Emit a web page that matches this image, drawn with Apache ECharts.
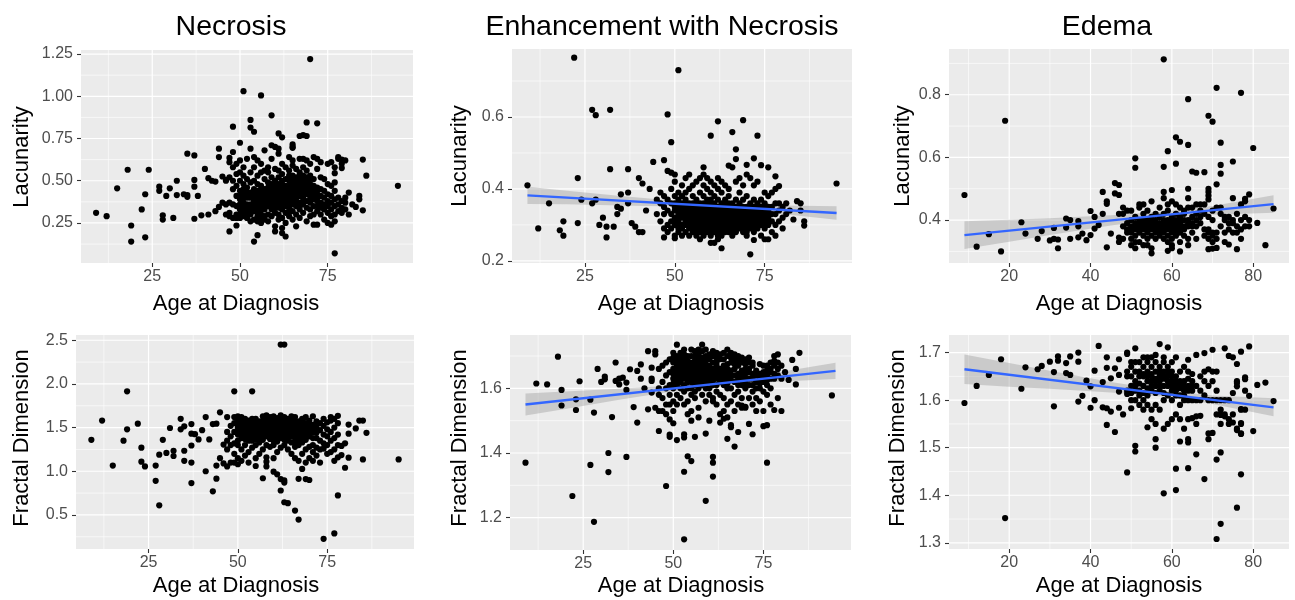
<!DOCTYPE html>
<html lang="en">
<head>
<meta charset="UTF-8">
<title>Lacunarity and fractal dimension by age at diagnosis</title>
<script src="https://cdn.jsdelivr.net/npm/echarts@6.0.0/dist/echarts.min.js"></script>
<style>
  html, body { margin: 0; padding: 0; background: #fff; }
  #chart { width: 1295px; height: 600px; }
</style>
</head>
<body>
<div id="chart"></div>
<script>
// ---- data: [age, value] ----
var necrosisLacunarity = [
  [9,0.31],[12,0.29],[15,0.455],[18,0.565],[19,0.235],[19,0.14],[22,0.33],[23,0.165],[23,0.42],[24,0.565],
  [27,0.465],[27,0.44],[28,0.295],[28,0.27],[29,0.41],[30,0.455],[31,0.28],[32,0.5],[32,0.415],[34,0.42],
  [35,0.415],[35,0.405],[35,0.66],[37,0.65],[37,0.505],[37,0.465],[37,0.275],[38,0.41],[39,0.295],[40,0.57],
  [41,0.515],[42,0.5],[43,0.495],[41,0.3],[43,0.32],[44,0.345],[44,0.69],[44,0.64],[45,0.525],[45,0.37],
  [46,0.505],[47,0.635],[47,0.2],[48,0.82],[49,0.235],[50,0.725],[51,1.03],[53,0.86],[53,0.815],[54,0.79],
  [54,0.14],[55,0.178],[56,1.005],[59,0.887],[61,0.78],[62,0.757],[65,0.715],[65,0.695],[67,0.765],[68,0.77],
  [69,0.765],[69,0.845],[70,1.22],[72,0.84],[77,0.07],[85,0.625],[86,0.53],[85,0.325],[84,0.41],[84,0.39],
  [95,0.47],[81,0.3],[81,0.43],[78,0.64],[79,0.625],[79,0.575],[77,0.545],[83,0.345],
  [46,0.36],[46,0.5],[46,0.3],
  [47,0.29],[47,0.31],[47,0.52],[47,0.37],[47,0.61],
  [48,0.28],[48,0.36],[48,0.45],[48,0.58],[48,0.67],[48,0.5],
  [49,0.3],[49,0.35],[49,0.41],[49,0.47],[49,0.54],[49,0.6],[49,0.28],
  [50,0.28],[50,0.3],[50,0.33],[50,0.39],[50,0.44],[50,0.5],[50,0.55],[50,0.62],[50,0.36],
  [51,0.29],[51,0.31],[51,0.34],[51,0.42],[51,0.48],[51,0.53],[51,0.58],[51,0.37],[51,0.45],
  [52,0.28],[52,0.33],[52,0.4],[52,0.46],[52,0.51],[52,0.63],[52,0.36],
  [53,0.3],[53,0.36],[53,0.43],[53,0.49],[53,0.55],[53,0.69],[53,0.26],
  [54,0.27],[54,0.32],[54,0.38],[54,0.45],[54,0.5],[54,0.58],[54,0.64],[54,0.41],
  [55,0.26],[55,0.29],[55,0.34],[55,0.4],[55,0.44],[55,0.48],[55,0.53],[55,0.62],[55,0.37],
  [56,0.25],[56,0.28],[56,0.3],[56,0.36],[56,0.42],[56,0.47],[56,0.55],[56,0.6],[56,0.39],
  [57,0.27],[57,0.29],[57,0.33],[57,0.38],[57,0.41],[57,0.45],[57,0.51],[57,0.56],[57,0.68],
  [58,0.26],[58,0.3],[58,0.35],[58,0.39],[58,0.42],[58,0.46],[58,0.49],[58,0.55],[58,0.58],[58,0.44],
  [59,0.29],[59,0.33],[59,0.37],[59,0.4],[59,0.43],[59,0.45],[59,0.48],[59,0.52],[59,0.63],[59,0.71],[59,0.41],
  [60,0.2],[60,0.23],[60,0.31],[60,0.36],[60,0.39],[60,0.42],[60,0.44],[60,0.47],[60,0.5],[60,0.57],[60,0.7],[60,0.4],
  [61,0.27],[61,0.3],[61,0.34],[61,0.38],[61,0.41],[61,0.43],[61,0.46],[61,0.52],[61,0.56],[61,0.66],[61,0.69],
  [62,0.19],[62,0.22],[62,0.28],[62,0.33],[62,0.36],[62,0.4],[62,0.44],[62,0.48],[62,0.54],[62,0.6],[62,0.38],
  [63,0.17],[63,0.25],[63,0.31],[63,0.35],[63,0.39],[63,0.43],[63,0.47],[63,0.51],[63,0.58],
  [64,0.29],[64,0.34],[64,0.37],[64,0.42],[64,0.45],[64,0.5],[64,0.56],[64,0.64],[64,0.4],
  [65,0.27],[65,0.32],[65,0.36],[65,0.41],[65,0.46],[65,0.49],[65,0.53],[65,0.59],[65,0.62],[65,0.7],
  [66,0.23],[66,0.3],[66,0.35],[66,0.38],[66,0.44],[66,0.48],[66,0.52],[66,0.57],[66,0.42],
  [67,0.28],[67,0.33],[67,0.37],[67,0.41],[67,0.45],[67,0.5],[67,0.55],[67,0.48],[67,0.63],
  [68,0.31],[68,0.36],[68,0.4],[68,0.43],[68,0.47],[68,0.49],[68,0.53],[68,0.58],[68,0.63],[68,0.45],
  [69,0.26],[69,0.34],[69,0.38],[69,0.42],[69,0.46],[69,0.5],[69,0.56],[69,0.62],
  [70,0.29],[70,0.33],[70,0.37],[70,0.41],[70,0.44],[70,0.48],[70,0.53],[70,0.6],
  [71,0.24],[71,0.3],[71,0.35],[71,0.39],[71,0.43],[71,0.47],[71,0.64],[71,0.51],
  [72,0.24],[72,0.32],[72,0.38],[72,0.42],[72,0.46],[72,0.57],[72,0.63],
  [73,0.3],[73,0.34],[73,0.37],[73,0.41],[73,0.45],[73,0.52],[73,0.61],
  [74,0.27],[74,0.33],[74,0.36],[74,0.4],[74,0.44],[74,0.51],
  [75,0.25],[75,0.31],[75,0.35],[75,0.38],[75,0.42],[75,0.48],[75,0.6],
  [76,0.24],[76,0.29],[76,0.33],[76,0.37],[76,0.41],[76,0.47],[76,0.61],
  [77,0.26],[77,0.3],[77,0.35],[77,0.39],[77,0.44],[77,0.49],[77,0.58],
  [78,0.32],[78,0.36],[78,0.4],[78,0.63],[79,0.31],[79,0.34],[79,0.38],[79,0.6],
  [80,0.33],[80,0.37],[80,0.4],[80,0.62],[82,0.36],
  [50,0.41],[51,0.4],[52,0.43],[52,0.3],[53,0.33],[53,0.4],[54,0.35],[54,0.43],[55,0.42],[55,0.31],
  [56,0.33],[56,0.45],[57,0.43],[57,0.36],[58,0.37],[58,0.41],[59,0.35],[59,0.39],[60,0.34],[60,0.38],
  [60,0.45],[61,0.36],[61,0.4],[61,0.48],[62,0.42],[62,0.46],[62,0.5],[63,0.37],[63,0.41],[63,0.45],
  [64,0.32],[64,0.47],[64,0.53],[65,0.39],[65,0.44],[65,0.51],[66,0.4],[66,0.46],[66,0.5],[67,0.35],
  [67,0.43],[67,0.53],[68,0.38],[68,0.51],[69,0.44],[69,0.48],[69,0.52],[70,0.39],[70,0.46],[70,0.51],
  [71,0.41],[71,0.45],[72,0.4],[72,0.44],[72,0.35]
];

var enhancementLacunarity = [
  [9,0.41],[12,0.29],[15,0.36],[18,0.285],[19,0.31],[19,0.27],[22,0.765],[23,0.43],[23,0.305],[24,0.37],
  [27,0.62],[28,0.605],[27,0.36],[28,0.37],[29,0.3],[30,0.32],[31,0.265],[31,0.295],[32,0.62],[32,0.455],
  [33,0.295],[34,0.33],[34,0.35],[35,0.385],[35,0.345],[37,0.455],[37,0.39],[37,0.36],[38,0.305],[39,0.295],
  [40,0.43],[41,0.415],[40,0.28],[41,0.28],[42,0.34],[43,0.4],[44,0.475],[47,0.48],[48,0.607],[49,0.53],
  [51,0.73],[60,0.548],[62,0.588],[66,0.558],[67,0.51],[69,0.591],[73,0.548],[71,0.218],[95,0.415],[74,0.466],
  [76,0.46],[78,0.435],[79,0.408],[78,0.4],[84,0.366],[86,0.298],[83,0.315],[80,0.29],[63,0.235],[72,0.258],
  [47,0.265],[50,0.263],[48,0.45],[49,0.445],[50,0.44],[70,0.467],[72,0.485],[67,0.483],[65,0.465],[58,0.46],
  [45,0.33],[45,0.37],[46,0.31],[46,0.36],[46,0.39],
  [47,0.29],[47,0.33],[47,0.35],[47,0.38],[48,0.28],[48,0.3],[48,0.34],[48,0.37],
  [49,0.29],[49,0.31],[49,0.33],[49,0.36],[49,0.4],
  [50,0.27],[50,0.3],[50,0.32],[50,0.34],[50,0.36],[50,0.38],[50,0.42],
  [51,0.28],[51,0.29],[51,0.31],[51,0.33],[51,0.35],[51,0.37],[51,0.39],
  [52,0.27],[52,0.29],[52,0.32],[52,0.34],[52,0.36],[52,0.38],[52,0.41],
  [53,0.28],[53,0.3],[53,0.31],[53,0.33],[53,0.35],[53,0.37],[53,0.39],[53,0.43],
  [54,0.27],[54,0.29],[54,0.31],[54,0.32],[54,0.34],[54,0.36],[54,0.4],[54,0.44],
  [55,0.28],[55,0.3],[55,0.32],[55,0.33],[55,0.35],[55,0.38],[55,0.41],
  [56,0.27],[56,0.29],[56,0.31],[56,0.34],[56,0.36],[56,0.37],[56,0.42],
  [57,0.26],[57,0.28],[57,0.3],[57,0.32],[57,0.33],[57,0.35],[57,0.39],[57,0.43],
  [58,0.27],[58,0.29],[58,0.31],[58,0.33],[58,0.34],[58,0.36],[58,0.38],[58,0.41],[58,0.44],
  [59,0.28],[59,0.3],[59,0.32],[59,0.34],[59,0.35],[59,0.37],[59,0.4],[59,0.43],
  [60,0.25],[60,0.27],[60,0.29],[60,0.31],[60,0.33],[60,0.35],[60,0.37],[60,0.39],[60,0.42],
  [61,0.25],[61,0.28],[61,0.3],[61,0.32],[61,0.34],[61,0.36],[61,0.38],[61,0.41],
  [62,0.26],[62,0.28],[62,0.31],[62,0.33],[62,0.35],[62,0.37],[62,0.4],[62,0.43],
  [63,0.27],[63,0.29],[63,0.32],[63,0.34],[63,0.36],[63,0.39],[63,0.42],
  [64,0.28],[64,0.3],[64,0.33],[64,0.35],[64,0.37],[64,0.41],
  [65,0.28],[65,0.31],[65,0.33],[65,0.36],[65,0.38],[65,0.4],
  [66,0.27],[66,0.29],[66,0.32],[66,0.34],[66,0.36],[66,0.46],
  [67,0.28],[67,0.31],[67,0.33],[67,0.35],[67,0.37],[67,0.42],
  [68,0.29],[68,0.31],[68,0.33],[68,0.34],[68,0.36],[68,0.39],[68,0.43],
  [69,0.28],[69,0.3],[69,0.32],[69,0.34],[69,0.35],[69,0.37],[69,0.41],
  [70,0.27],[70,0.3],[70,0.31],[70,0.33],[70,0.35],[70,0.38],[70,0.44],
  [71,0.29],[71,0.31],[71,0.33],[71,0.34],[71,0.36],[71,0.43],
  [72,0.28],[72,0.3],[72,0.32],[72,0.34],[72,0.35],[72,0.37],[72,0.41],
  [73,0.29],[73,0.31],[73,0.33],[73,0.35],[73,0.36],[73,0.42],
  [74,0.27],[74,0.3],[74,0.32],[74,0.34],[74,0.37],
  [75,0.26],[75,0.29],[75,0.31],[75,0.33],[75,0.35],[75,0.36],[75,0.39],
  [76,0.26],[76,0.3],[76,0.32],[76,0.34],[76,0.38],
  [77,0.28],[77,0.31],[77,0.33],[77,0.35],[77,0.39],
  [78,0.27],[78,0.3],[78,0.33],[78,0.36],[79,0.31],[79,0.34],[79,0.36],
  [80,0.32],[80,0.35],[81,0.33],[81,0.36],[82,0.34],[85,0.34],[85,0.36],[86,0.31],
  [50,0.31],[50,0.35],[51,0.3],[51,0.32],[51,0.34],[51,0.36],[52,0.3],[52,0.33],[52,0.35],[53,0.32],
  [53,0.34],[53,0.36],[54,0.3],[54,0.33],[54,0.35],[55,0.29],[55,0.31],[55,0.34],[55,0.36],[56,0.28],
  [56,0.3],[56,0.32],[56,0.33],[56,0.35],[57,0.29],[57,0.31],[57,0.34],[57,0.36],[58,0.28],[58,0.3],
  [58,0.32],[58,0.35],[59,0.29],[59,0.31],[59,0.33],[59,0.36],[60,0.28],[60,0.3],[60,0.32],[60,0.34],
  [60,0.36],[61,0.29],[61,0.31],[61,0.33],[61,0.35],[62,0.27],[62,0.29],[62,0.3],[62,0.32],[62,0.34],
  [63,0.28],[63,0.3],[63,0.31],[63,0.33],[63,0.35],[64,0.29],[64,0.31],[64,0.32],[64,0.34],[64,0.36],
  [65,0.29],[65,0.3],[65,0.32],[65,0.34],[65,0.35],[66,0.28],[66,0.3],[66,0.31],[66,0.33],[67,0.29],
  [67,0.3],[67,0.32],[67,0.34],[68,0.3],[68,0.32],[68,0.35],[69,0.29],[69,0.31],[69,0.33],[70,0.28],
  [70,0.29],[70,0.32],[70,0.34],[71,0.3],[71,0.32],[71,0.35],[72,0.29],[72,0.31],[72,0.33],[73,0.3],
  [73,0.32],[73,0.34],[74,0.31],[74,0.33],[74,0.35],[75,0.3],[75,0.32],[75,0.34],[76,0.31],[76,0.33],[76,0.35]
];

var edemaLacunarity = [
  [9,0.48],[12,0.315],[15,0.355],[18,0.3],[19,0.717],[23,0.393],[24,0.357],[27,0.34],[28,0.365],[30,0.335],
  [31,0.34],[31,0.375],[32,0.31],[32,0.338],[34,0.405],[35,0.4],[34,0.376],[35,0.34],[37,0.397],[37,0.38],
  [37,0.345],[38,0.357],[39,0.336],[40,0.429],[40,0.352],[41,0.373],[41,0.41],[42,0.384],[43,0.42],[43,0.49],
  [44,0.452],[44,0.46],[44,0.313],[45,0.357],[46,0.518],[47,0.512],[46,0.485],[47,0.48],[47,0.42],[47,0.344],
  [47,0.33],[51,0.597],[51,0.567],[58,0.913],[58,0.57],[59,0.62],[60,0.496],[61,0.664],[62,0.65],[61,0.58],
  [64,0.786],[64,0.64],[65,0.555],[66,0.551],[68,0.553],[69,0.733],[70,0.714],[71,0.822],[72,0.647],[72,0.576],
  [72,0.548],[71,0.514],[75,0.587],[77,0.806],[80,0.63],[85,0.437],[81,0.391],[83,0.32],[76,0.307],[79,0.482],
  [78,0.468],[69,0.5],[69,0.49],[69,0.478],[69,0.466],[64,0.5],[55,0.294],[59,0.302],[60,0.31],[62,0.3],
  [69,0.307],[70,0.309],[71,0.311],[74,0.322],
  [48,0.34],[48,0.38],[48,0.42],[48,0.44],[49,0.36],[49,0.37],[49,0.39],[49,0.43],
  [50,0.32],[50,0.34],[50,0.36],[50,0.38],[50,0.4],[50,0.43],
  [51,0.31],[51,0.33],[51,0.35],[51,0.37],[51,0.39],[51,0.41],
  [52,0.33],[52,0.36],[52,0.38],[52,0.4],[52,0.44],[52,0.45],
  [53,0.32],[53,0.35],[53,0.37],[53,0.39],[53,0.42],[53,0.45],
  [54,0.32],[54,0.34],[54,0.36],[54,0.38],[54,0.4],[54,0.43],
  [55,0.31],[55,0.35],[55,0.37],[55,0.39],[55,0.41],[55,0.46],
  [56,0.34],[56,0.36],[56,0.38],[56,0.4],[56,0.42],
  [57,0.35],[57,0.37],[57,0.38],[57,0.39],[57,0.41],[57,0.44],
  [58,0.34],[58,0.36],[58,0.37],[58,0.39],[58,0.42],[58,0.47],[58,0.49],
  [59,0.33],[59,0.35],[59,0.38],[59,0.4],[59,0.43],[59,0.45],
  [60,0.32],[60,0.34],[60,0.36],[60,0.38],[60,0.39],[60,0.41],[60,0.46],
  [61,0.35],[61,0.37],[61,0.38],[61,0.4],[61,0.42],[61,0.45],
  [62,0.33],[62,0.36],[62,0.38],[62,0.39],[62,0.41],[62,0.44],
  [63,0.35],[63,0.37],[63,0.4],[63,0.42],[63,0.43],
  [64,0.32],[64,0.34],[64,0.38],[64,0.4],[64,0.44],[64,0.47],
  [65,0.36],[65,0.39],[65,0.41],[65,0.44],[66,0.34],[66,0.4],[66,0.42],[66,0.45],
  [67,0.39],[67,0.43],[67,0.45],[68,0.35],[68,0.37],[68,0.42],[68,0.45],
  [69,0.34],[69,0.36],[69,0.37],[69,0.41],[70,0.33],[70,0.35],[70,0.36],[70,0.4],[70,0.43],
  [71,0.34],[71,0.36],[71,0.44],[72,0.38],[72,0.42],[72,0.44],
  [73,0.33],[73,0.36],[73,0.4],[73,0.41],[74,0.37],[74,0.39],[74,0.41],
  [75,0.36],[75,0.39],[75,0.4],[75,0.47],[76,0.36],[76,0.38],[76,0.42],
  [77,0.34],[77,0.37],[77,0.4],[77,0.45],[78,0.38],[78,0.41],[78,0.46],[79,0.38],[79,0.4],
  [50,0.37],[51,0.38],[52,0.37],[52,0.39],[53,0.38],[53,0.4],[54,0.37],[54,0.39],[55,0.38],[55,0.4],
  [56,0.37],[56,0.39],[57,0.36],[58,0.38],[58,0.4],[59,0.37],[59,0.39],[60,0.37],[60,0.4],[61,0.36],
  [61,0.39],[62,0.37],[62,0.4],[63,0.38],[64,0.39],[65,0.38],[66,0.38],[67,0.41]
];

var necrosisFractal = [
  [9,1.36],[12,1.58],[15,1.065],[18,1.35],[19,1.915],[19,1.48],[22,1.545],[23,1.27],[23,1.11],[24,1.055],
  [27,1.065],[27,0.89],[28,1.19],[28,0.61],[29,1.36],[30,1.21],[31,1.495],[32,1.235],[32,1.175],[34,1.6],
  [34,1.48],[35,1.515],[35,1.235],[35,1.12],[37,1.43],[37,1.54],[37,1.295],[37,1.1],[37,0.865],[38,1.425],
  [39,1.365],[40,1.47],[41,1.62],[41,1.0],[42,1.365],[43,1.54],[43,0.77],[44,1.545],[44,1.065],[44,0.915],
  [45,1.675],[45,1.15],[46,1.305],[46,1.09],[47,1.055],[49,1.915],[54,1.915],[62,2.45],[63,2.45],[57,0.92],
  [58,1.055],[58,1.11],[58,1.16],[60,0.995],[61,0.965],[62,0.91],[63,0.895],[63,0.87],[62,0.78],[63,0.645],
  [64,0.635],[66,0.55],[67,0.447],[74,0.227],[77,0.288],[78,0.723],[67,0.913],[69,0.91],[70,0.9],[68,1.027],
  [85,1.135],[81,1.155],[80,1.04],[95,1.135],[86,1.44],[84,1.58],[85,1.58],[83,1.49],[81,1.535],[81,1.43],
  [78,1.635],[79,1.29],[80,1.32],[79,1.185],[78,1.16],
  [47,1.35],[47,1.45],[47,1.62],[47,1.25],[48,1.4],[48,1.52],[48,1.3],[48,1.1],
  [49,1.2],[49,1.32],[49,1.45],[49,1.55],[49,1.62],[49,1.1],
  [50,1.08],[50,1.15],[50,1.3],[50,1.42],[50,1.5],[50,1.56],[50,1.6],[50,1.63],
  [51,1.12],[51,1.25],[51,1.38],[51,1.47],[51,1.53],[51,1.58],[51,1.62],
  [52,1.18],[52,1.3],[52,1.43],[52,1.5],[52,1.55],[52,1.6],
  [53,1.1],[53,1.22],[53,1.35],[53,1.45],[53,1.52],[53,1.58],
  [54,1.27],[54,1.4],[54,1.48],[54,1.55],[54,1.6],
  [55,1.06],[55,1.15],[55,1.3],[55,1.37],[55,1.45],[55,1.53],[55,1.6],
  [56,1.2],[56,1.33],[56,1.42],[56,1.5],[56,1.57],
  [57,1.25],[57,1.36],[57,1.45],[57,1.52],[57,1.58],[57,1.63],
  [58,1.3],[58,1.4],[58,1.48],[58,1.54],[58,1.6],[58,1.64],
  [59,1.28],[59,1.37],[59,1.45],[59,1.5],[59,1.55],[59,1.62],
  [60,1.15],[60,1.3],[60,1.4],[60,1.47],[60,1.52],[60,1.57],[60,1.63],
  [61,1.22],[61,1.34],[61,1.42],[61,1.49],[61,1.55],[61,1.61],
  [62,1.27],[62,1.38],[62,1.45],[62,1.52],[62,1.58],[62,1.64],
  [63,1.3],[63,1.36],[63,1.44],[63,1.5],[63,1.57],[63,1.62],
  [64,1.25],[64,1.35],[64,1.42],[64,1.48],[64,1.55],[64,1.6],
  [65,1.2],[65,1.33],[65,1.45],[65,1.52],[65,1.6],[65,1.63],
  [66,1.15],[66,1.28],[66,1.38],[66,1.47],[66,1.56],[66,1.62],
  [67,1.12],[67,1.3],[67,1.4],[67,1.5],[67,1.57],
  [68,1.2],[68,1.33],[68,1.45],[68,1.53],[68,1.6],
  [69,1.1],[69,1.25],[69,1.36],[69,1.48],[69,1.55],[69,1.62],
  [70,1.15],[70,1.28],[70,1.4],[70,1.5],[70,1.58],
  [71,1.12],[71,1.22],[71,1.3],[71,1.45],[71,1.53],[71,1.63],
  [72,1.18],[72,1.27],[72,1.38],[72,1.5],[72,1.57],
  [73,1.1],[73,1.25],[73,1.35],[73,1.47],[73,1.55],
  [74,1.26],[74,1.32],[74,1.42],[74,1.52],[74,1.6],
  [75,1.2],[75,1.3],[75,1.4],[75,1.48],[75,1.56],
  [76,1.22],[76,1.35],[76,1.45],[76,1.58],[76,1.62],
  [77,1.12],[77,1.25],[77,1.38],[77,1.5],[77,1.6],[78,1.3],[78,1.42],[78,1.55],
  [50,1.35],[50,1.46],[51,1.42],[51,1.55],[52,1.37],[52,1.47],[52,1.58],[53,1.41],[53,1.49],[53,1.55],
  [54,1.35],[54,1.44],[54,1.52],[55,1.41],[55,1.49],[55,1.56],[56,1.38],[56,1.46],[56,1.54],[57,1.4],
  [57,1.49],[57,1.55],[58,1.44],[58,1.51],[58,1.57],[59,1.41],[59,1.48],[59,1.58],[60,1.35],[60,1.44],
  [60,1.55],[61,1.38],[61,1.46],[61,1.52],[62,1.42],[62,1.49],[62,1.55],[63,1.4],[63,1.47],[63,1.54],
  [64,1.38],[64,1.45],[64,1.52],[65,1.4],[65,1.49],[65,1.56],[66,1.33],[66,1.43],[66,1.52],[67,1.36],
  [67,1.45],[67,1.54],[68,1.39],[68,1.49],[68,1.57],[69,1.42],[69,1.52],[70,1.45],[70,1.54],[71,1.38],
  [71,1.49],[72,1.44],[72,1.54]
];

var enhancementFractal = [
  [9,1.37],[12,1.615],[15,1.612],[18,1.698],[19,1.595],[19,1.547],[22,1.267],[23,1.566],[23,1.533],[24,1.622],
  [27,1.565],[27,1.363],[28,1.525],[28,1.187],[29,1.66],[30,1.62],[31,1.628],[31,1.636],[32,1.4],[32,1.341],
  [33,1.511],[34,1.68],[34,1.623],[35,1.63],[35,1.612],[36,1.633],[37,1.388],[37,1.595],[37,1.618],[38,1.659],
  [39,1.542],[40,1.494],[40,1.654],[41,1.674],[41,1.63],[42,1.6],[43,1.715],[43,1.535],[44,1.664],[44,1.63],
  [44,1.623],[44,1.587],[45,1.715],[45,1.705],[45,1.54],[46,1.468],[48,1.298],[49,1.457],[49,1.45],[49,1.504],
  [50,1.492],[51,1.44],[53,1.342],[53,1.133],[54,1.39],[55,1.375],[53,1.458],[53,1.448],[56,1.45],[59,1.252],
  [59,1.46],[61,1.388],[61,1.37],[61,1.327],[65,1.444],[67,1.42],[68,1.465],[72,1.458],[76,1.37],[75,1.483],
  [76,1.486],[78,1.533],[79,1.57],[84,1.612],[83,1.688],[85,1.71],[82,1.626],[84,1.66],[94,1.578],[63,1.494],
  [64,1.506],[66,1.486],[69,1.547],[70,1.543],[71,1.49],
  [46,1.58],[46,1.66],[46,1.6],[46,1.53],[47,1.57],[47,1.62],[47,1.67],[47,1.53],
  [48,1.55],[48,1.6],[48,1.64],[48,1.68],[48,1.52],[49,1.58],[49,1.61],[49,1.65],[49,1.69],[49,1.55],
  [50,1.56],[50,1.6],[50,1.63],[50,1.66],[50,1.68],[50,1.71],[50,1.53],
  [51,1.58],[51,1.61],[51,1.64],[51,1.67],[51,1.7],[51,1.735],[51,1.55],
  [52,1.57],[52,1.62],[52,1.65],[52,1.68],[52,1.71],[52,1.6],
  [53,1.55],[53,1.59],[53,1.63],[53,1.66],[53,1.69],[53,1.72],
  [54,1.56],[54,1.6],[54,1.64],[54,1.67],[54,1.7],[54,1.62],[54,1.52],
  [55,1.53],[55,1.58],[55,1.62],[55,1.65],[55,1.68],[55,1.72],[55,1.5],
  [56,1.57],[56,1.61],[56,1.64],[56,1.67],[56,1.7],[56,1.59],
  [57,1.54],[57,1.6],[57,1.63],[57,1.66],[57,1.69],[57,1.72],[57,1.51],
  [58,1.58],[58,1.62],[58,1.65],[58,1.68],[58,1.735],[58,1.61],
  [59,1.56],[59,1.6],[59,1.63],[59,1.66],[59,1.7],[59,1.72],
  [60,1.5],[60,1.58],[60,1.62],[60,1.65],[60,1.67],[60,1.69],[60,1.6],
  [61,1.56],[61,1.61],[61,1.64],[61,1.66],[61,1.7],[61,1.57],
  [62,1.55],[62,1.59],[62,1.63],[62,1.66],[62,1.68],[62,1.71],
  [63,1.52],[63,1.58],[63,1.62],[63,1.65],[63,1.69],[63,1.64],
  [64,1.57],[64,1.61],[64,1.64],[64,1.67],[64,1.71],[64,1.53],
  [65,1.55],[65,1.6],[65,1.63],[65,1.66],[65,1.72],[65,1.51],
  [66,1.56],[66,1.6],[66,1.64],[66,1.68],[66,1.71],[66,1.48],
  [67,1.53],[67,1.58],[67,1.62],[67,1.66],[67,1.69],
  [68,1.55],[68,1.59],[68,1.63],[68,1.67],[68,1.7],
  [69,1.57],[69,1.61],[69,1.64],[69,1.68],[69,1.54],
  [70,1.54],[70,1.6],[70,1.63],[70,1.66],[70,1.69],
  [71,1.57],[71,1.61],[71,1.65],[71,1.68],[72,1.55],[72,1.59],[72,1.63],[72,1.67],
  [73,1.53],[73,1.57],[73,1.6],[73,1.64],[74,1.56],[74,1.6],[74,1.63],
  [75,1.59],[75,1.62],[75,1.65],[75,1.53],[76,1.58],[76,1.61],[76,1.64],[76,1.67],
  [77,1.55],[77,1.6],[77,1.65],[77,1.68],[78,1.63],[78,1.67],[78,1.7],
  [79,1.64],[79,1.68],[79,1.705],[80,1.63],[80,1.53],[81,1.65],
  [50,1.615],[50,1.645],[50,1.695],[51,1.625],[51,1.655],[51,1.685],[52,1.635],[52,1.665],[52,1.695],[53,1.61],
  [53,1.645],[53,1.675],[53,1.705],[54,1.63],[54,1.655],[54,1.685],[55,1.6],[55,1.635],[55,1.665],[55,1.7],
  [56,1.625],[56,1.655],[56,1.685],[56,1.715],[57,1.615],[57,1.645],[57,1.675],[57,1.705],[58,1.635],[58,1.665],
  [58,1.695],[58,1.715],[59,1.615],[59,1.645],[59,1.675],[59,1.69],[60,1.635],[60,1.66],[60,1.705],[61,1.625],
  [61,1.65],[61,1.68],[61,1.715],[62,1.61],[62,1.645],[62,1.67],[62,1.695],[63,1.63],[63,1.66],[63,1.705],
  [64,1.625],[64,1.655],[64,1.69],[65,1.615],[65,1.645],[65,1.675],[65,1.7],[66,1.625],[66,1.655],[66,1.695],
  [67,1.64],[67,1.675],[67,1.705],[68,1.61],[68,1.645],[68,1.685],[69,1.625],[69,1.655],[69,1.695],[70,1.615],
  [70,1.645],[70,1.675],[71,1.63],[71,1.66],[71,1.695],[72,1.61],[72,1.645],[72,1.68],[73,1.62],[73,1.655],
  [74,1.615],[74,1.645],[74,1.675],[75,1.635],[75,1.67],[76,1.625],[76,1.655],[77,1.63],[77,1.66],[78,1.645],
  [78,1.685],[79,1.66],[80,1.67]
];

var edemaFractal = [
  [9,1.594],[12,1.63],[15,1.653],[18,1.686],[19,1.352],[23,1.624],[24,1.669],[27,1.665],[28,1.672],[30,1.681],
  [31,1.659],[31,1.587],[32,1.692],[32,1.683],[34,1.678],[34,1.657],[35,1.692],[35,1.653],[37,1.7],[37,1.681],
  [37,1.597],[38,1.609],[39,1.641],[40,1.629],[40,1.584],[41,1.662],[41,1.6],[42,1.714],[43,1.638],[43,1.585],
  [44,1.583],[45,1.576],[44,1.69],[44,1.668],[44,1.548],[45,1.646],[46,1.667],[46,1.533],[47,1.686],[47,1.653],
  [47,1.618],[47,1.584],[48,1.57],[49,1.7],[49,1.697],[49,1.448],[49,1.613],[51,1.504],[51,1.492],[51,1.709],
  [50,1.583],[54,1.543],[56,1.518],[56,1.5],[57,1.718],[58,1.404],[59,1.711],[61,1.411],[61,1.456],[64,1.457],
  [66,1.486],[68,1.434],[71,1.475],[71,1.308],[72,1.34],[72,1.49],[76,1.374],[77,1.444],[80,1.535],[81,1.632],
  [83,1.637],[85,1.598],[79,1.713],[77,1.702],[73,1.709],[68,1.699],[70,1.706],[74,1.693],[75,1.69],[76,1.676],
  [78,1.644],[78,1.648],[76,1.636],[76,1.629],[79,1.609],[77,1.581],[77,1.552],[77,1.529],[76,1.537],[75,1.553],
  [74,1.56],[72,1.569],[73,1.566],[70,1.531],[69,1.518],[65,1.562],[66,1.566],[64,1.518],[64,1.511],[62,1.513],
  [63,1.54],[67,1.567],
  [49,1.62],[49,1.65],[49,1.66],[50,1.6],[50,1.63],[50,1.65],[50,1.67],[50,1.68],
  [51,1.6],[51,1.62],[51,1.64],[51,1.66],[51,1.68],
  [52,1.59],[52,1.62],[52,1.65],[52,1.66],[52,1.68],[52,1.61],
  [53,1.58],[53,1.6],[53,1.63],[53,1.65],[53,1.67],[53,1.69],
  [54,1.59],[54,1.61],[54,1.64],[54,1.66],[54,1.68],[54,1.69],
  [55,1.56],[55,1.58],[55,1.62],[55,1.64],[55,1.65],[55,1.67],[55,1.69],
  [56,1.55],[56,1.59],[56,1.63],[56,1.64],[56,1.66],[56,1.68],[56,1.695],
  [57,1.58],[57,1.62],[57,1.64],[57,1.65],[57,1.66],[57,1.67],
  [58,1.54],[58,1.6],[58,1.63],[58,1.645],[58,1.66],[58,1.68],[58,1.69],
  [59,1.55],[59,1.61],[59,1.63],[59,1.65],[59,1.67],
  [60,1.56],[60,1.6],[60,1.62],[60,1.64],[60,1.66],[60,1.68],
  [61,1.57],[61,1.61],[61,1.63],[61,1.65],[61,1.69],
  [62,1.56],[62,1.59],[62,1.61],[62,1.63],[62,1.64],[62,1.66],
  [63,1.6],[63,1.62],[63,1.64],[63,1.67],
  [64,1.56],[64,1.6],[64,1.62],[64,1.63],[64,1.66],[64,1.685],
  [65,1.6],[65,1.62],[65,1.64],[65,1.655],[66,1.55],[66,1.6],[66,1.63],[66,1.695],
  [67,1.6],[67,1.62],[67,1.65],[68,1.61],[68,1.64],[68,1.66],
  [69,1.53],[69,1.6],[69,1.63],[69,1.665],[70,1.6],[70,1.64],[70,1.66],
  [71,1.57],[71,1.6],[71,1.62],[71,1.66],[72,1.55],[72,1.58],[72,1.6],
  [73,1.57],[73,1.6],[74,1.55],[74,1.6],[75,1.57],[75,1.615],[76,1.54],[76,1.64],
  [77,1.53],[77,1.55],[77,1.58],[78,1.58],[78,1.62],
  [50,1.615],[51,1.63],[52,1.635],[53,1.615],[53,1.655],[54,1.625],[54,1.65],[55,1.63],[55,1.655],[56,1.615],
  [56,1.645],[57,1.63],[57,1.655],[58,1.615],[58,1.65],[59,1.64],[59,1.66],[60,1.63],[60,1.65],[61,1.62],
  [61,1.64],[62,1.625],[63,1.61],[63,1.63],[64,1.645],[65,1.63]
];

// fitted lines (end points) and their grey bands
var enhLacFit = [[9,0.382],[95,0.333]];
var enhLacBandX = [9,20,35,50,65,80,95];
var enhLacBandHi = [0.406,0.395,0.380,0.367,0.358,0.354,0.352];
var enhLacBandLo = [0.358,0.357,0.354,0.351,0.342,0.330,0.314];

var edemaLacFit = [[9,0.352],[85,0.451]];
var edemaLacBandX = [9,20,30,45,58,70,85];
var edemaLacBandHi = [0.396,0.401,0.406,0.415,0.427,0.445,0.479];
var edemaLacBandLo = [0.308,0.331,0.352,0.383,0.405,0.417,0.423];

var enhFdFit = [[9,1.55],[95,1.654]];
var enhFdBandX = [9,20,35,50,65,80,95];
var enhFdBandHi = [1.584,1.590,1.599,1.609,1.627,1.651,1.679];
var enhFdBandLo = [1.516,1.536,1.565,1.591,1.609,1.621,1.629];

var edemaFdFit = [[9,1.665],[85,1.585]];
var edemaFdBandX = [9,20,30,45,58,70,85];
var edemaFdBandHi = [1.696,1.678,1.662,1.638,1.621,1.610,1.604];
var edemaFdBandLo = [1.634,1.628,1.624,1.616,1.607,1.592,1.566];

// tick labels and minor grid positions
var ageTicks25 = [25,50,75];
var ageMinor25 = [12.5,37.5,62.5,87.5];
var ageTicks20 = [20,40,60,80];
var ageMinor20 = [10,30,50,70];
var necLacTicks = [0.25,0.5,0.75,1.0,1.25];
var necLacMinor = [0.125,0.375,0.625,0.875,1.125];
var enhLacTicks = [0.2,0.4,0.6];
var enhLacMinor = [0.3,0.5,0.7];
var edemaLacTicks = [0.4,0.6,0.8];
var edemaLacMinor = [0.3,0.5,0.7,0.9];
var necFdTicks = [0.5,1.0,1.5,2.0,2.5];
var necFdMinor = [0.25,0.75,1.25,1.75,2.25];
var enhFdTicks = [1.2,1.4,1.6];
var enhFdMinor = [1.1,1.3,1.5,1.7];
var edemaFdTicks = [1.3,1.4,1.5,1.6,1.7];
var edemaFdMinor = [1.35,1.45,1.55,1.65];

var FONT = '"Liberation Sans", Arial, Helvetica, sans-serif';

// panel layout: rectangle in px, axis ranges
var panels = [
  {rect:[81,50,332,213], x:[4.7,99.3], y:[0.013,1.274], xt:ageTicks25, xm:ageMinor25, yt:necLacTicks, ym:necLacMinor, yDec:2, pts:necrosisLacunarity},
  {rect:[512,49,340,214], x:[4.7,99.3], y:[0.194,0.789], xt:ageTicks25, xm:ageMinor25, yt:enhLacTicks, ym:enhLacMinor, yDec:1, pts:enhancementLacunarity,
   fit:enhLacFit, bx:enhLacBandX, bhi:enhLacBandHi, blo:enhLacBandLo},
  {rect:[949,49,340,214], x:[5.2,88.8], y:[0.263,0.946], xt:ageTicks20, xm:ageMinor20, yt:edemaLacTicks, ym:edemaLacMinor, yDec:1, pts:edemaLacunarity,
   fit:edemaLacFit, bx:edemaLacBandX, bhi:edemaLacBandHi, blo:edemaLacBandLo},
  {rect:[76,335,338,214], x:[4.7,99.3], y:[0.11,2.56], xt:ageTicks25, xm:ageMinor25, yt:necFdTicks, ym:necFdMinor, yDec:1, pts:necrosisFractal},
  {rect:[510,335,341,215], x:[4.7,99.3], y:[1.1,1.765], xt:ageTicks25, xm:ageMinor25, yt:enhFdTicks, ym:enhFdMinor, yDec:1, pts:enhancementFractal,
   fit:enhFdFit, bx:enhFdBandX, bhi:enhFdBandHi, blo:enhFdBandLo},
  {rect:[949,335,340,214], x:[5.2,88.8], y:[1.287,1.737], xt:ageTicks20, xm:ageMinor20, yt:edemaFdTicks, ym:edemaFdMinor, yDec:1, pts:edemaFractal,
   fit:edemaFdFit, bx:edemaFdBandX, bhi:edemaFdBandHi, blo:edemaFdBandLo}
];

var chart = echarts.init(document.getElementById('chart'));

var grids = [], xAxes = [], yAxes = [], series = [];

function gridLines(p) {
  return function (params, api) {
    var cs = params.coordSys;
    var kids = [];
    function v(val, w) {
      var x = api.coord([val, p.y[0]])[0];
      kids.push({type: 'line', shape: {x1: x, y1: cs.y, x2: x, y2: cs.y + cs.height},
        style: {stroke: '#ffffff', lineWidth: w}});
    }
    function h(val, w) {
      var y = api.coord([p.x[0], val])[1];
      kids.push({type: 'line', shape: {x1: cs.x, y1: y, x2: cs.x + cs.width, y2: y},
        style: {stroke: '#ffffff', lineWidth: w}});
    }
    p.xm.forEach(function (a) { v(a, 0.6); });
    p.ym.forEach(function (a) { if (a > p.y[0] && a < p.y[1]) h(a, 0.6); });
    p.xt.forEach(function (a) { v(a, 1.2); });
    p.yt.forEach(function (a) { h(a, 1.2); });
    return {type: 'group', children: kids};
  };
}

function band(p) {
  return function (params, api) {
    var pts = [];
    for (var k = 0; k < p.bx.length; k++) pts.push(api.coord([p.bx[k], p.bhi[k]]));
    for (var k2 = p.bx.length - 1; k2 >= 0; k2--) pts.push(api.coord([p.bx[k2], p.blo[k2]]));
    return {type: 'polygon', shape: {points: pts}, style: {fill: 'rgba(153,153,153,0.4)'}};
  };
}

panels.forEach(function (p, i) {
  grids.push({left: p.rect[0], top: p.rect[1], width: p.rect[2], height: p.rect[3],
    show: true, backgroundColor: '#EBEBEB', borderWidth: 0});
  xAxes.push({
    type: 'value', gridIndex: i, min: p.x[0], max: p.x[1],
    axisLine: {show: false, onZero: false},
    axisTick: {show: true, customValues: p.xt, length: 4, lineStyle: {color: '#333333', width: 1.1}},
    axisLabel: {customValues: p.xt, color: '#4D4D4D', fontSize: 16, fontFamily: FONT, margin: 6,
      formatter: function (val) { return String(Math.round(val)); }},
    splitLine: {show: false}
  });
  yAxes.push({
    type: 'value', gridIndex: i, min: p.y[0], max: p.y[1],
    axisLine: {show: false, onZero: false},
    axisTick: {show: true, customValues: p.yt, length: 4, lineStyle: {color: '#333333', width: 1.1}},
    axisLabel: {customValues: p.yt, color: '#4D4D4D', fontSize: 16, fontFamily: FONT, margin: 8,
      formatter: (function (d) { return function (val) { return val.toFixed(d); }; })(p.yDec)},
    splitLine: {show: false}
  });
  series.push({type: 'custom', xAxisIndex: i, yAxisIndex: i, z: 1, silent: true,
    data: [[p.x[0], p.y[0]]], renderItem: gridLines(p)});
  if (p.bx) {
    series.push({type: 'custom', xAxisIndex: i, yAxisIndex: i, z: 2, silent: true,
      data: [[p.bx[0], p.blo[0]]], renderItem: band(p)});
  }
  series.push({type: 'scatter', xAxisIndex: i, yAxisIndex: i, z: 3, symbolSize: 6.2,
    itemStyle: {color: '#000000', opacity: 1}, data: p.pts});
  if (p.fit) {
    series.push({type: 'line', xAxisIndex: i, yAxisIndex: i, z: 4, data: p.fit,
      showSymbol: false, symbol: 'none', lineStyle: {color: '#3366FF', width: 2.3}});
  }
});

function label(text, x, y, size, rot) {
  return {type: 'text', x: x, y: y, rotation: rot || 0, z: 10,
    style: {text: text, fill: '#000000', fontSize: size, fontFamily: FONT,
      textAlign: 'center', textVerticalAlign: 'middle'}};
}

var graphics = [
  label('Necrosis', 231, 27, 28.5),
  label('Enhancement with Necrosis', 662, 27, 28.5),
  label('Edema', 1107, 27, 28.5),
  label('Age at Diagnosis', 236, 304, 22),
  label('Age at Diagnosis', 681, 304, 22),
  label('Age at Diagnosis', 1119, 304, 22),
  label('Age at Diagnosis', 236, 586, 22),
  label('Age at Diagnosis', 681, 586, 22),
  label('Age at Diagnosis', 1119, 586, 22),
  label('Lacunarity', 22, 157, 22, Math.PI / 2),
  label('Lacunarity', 460, 156, 22, Math.PI / 2),
  label('Lacunarity', 903, 156, 22, Math.PI / 2),
  label('Fractal Dimension', 22, 438, 22, Math.PI / 2),
  label('Fractal Dimension', 460, 438, 22, Math.PI / 2),
  label('Fractal Dimension', 898, 438, 22, Math.PI / 2)
];

var option = {
  animation: false,
  backgroundColor: '#ffffff',
  textStyle: {fontFamily: FONT},
  grid: grids,
  xAxis: xAxes,
  yAxis: yAxes,
  series: series,
  graphic: graphics
};

chart.setOption(option);
</script>
</body>
</html>
